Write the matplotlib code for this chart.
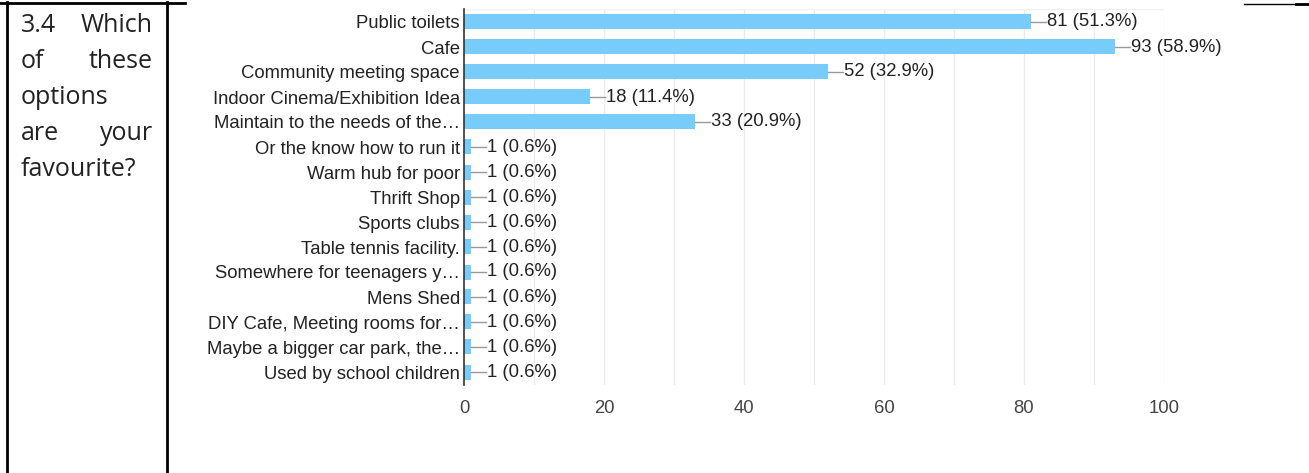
import matplotlib.pyplot as plt
from matplotlib.lines import Line2D

# Data
categories = ["Public toilets", "Cafe", "Community meeting space",
              "Indoor Cinema/Exhibition Idea", "Maintain to the needs of the\u2026",
              "Or the know how to run it", "Warm hub for poor", "Thrift Shop",
              "Sports clubs", "Table tennis facility.", "Somewhere for teenagers y\u2026",
              "Mens Shed", "DIY Cafe, Meeting rooms for\u2026",
              "Maybe a bigger car park, the\u2026", "Used by school children"]
counts = [81, 93, 52, 18, 33, 1, 1, 1, 1, 1, 1, 1, 1, 1, 1]
percents = [51.3, 58.9, 32.9, 11.4, 20.9, 0.6, 0.6, 0.6, 0.6, 0.6, 0.6, 0.6, 0.6, 0.6, 0.6]
xticks = [0, 20, 40, 60, 80, 100]

W, H = 1309, 473
fig = plt.figure(figsize=(W / 100, H / 100), dpi=100)
plt.rcParams['font.family'] = ['Liberation Sans', 'DejaVu Sans']

text_col = '#222222'
bar_col = '#77CCFA'
fs = 13.3

# Chart area
ax = fig.add_axes([464 / W, 1 - 384.5 / H, 700 / W, 375 / H])
y = list(range(len(categories)))
ax.barh(y, counts, height=0.6, color=bar_col, zorder=3)
ax.set_xlim(0, 100)
ax.set_ylim(len(categories) - 0.5, -0.5)

for x in range(10, 101, 10):
    ax.axvline(x, color='#ebebeb', lw=1, zorder=1)
ax.axhline(-0.5, color='#f0f0f0', lw=1, zorder=1)

ax.set_yticks(y)
ax.set_yticklabels(categories, fontsize=fs, color=text_col)
ax.set_xticks(xticks)
ax.set_xticklabels([str(t) for t in xticks], fontsize=fs, color='#444444')
ax.tick_params(axis='both', length=0)
ax.tick_params(axis='y', pad=3)
ax.tick_params(axis='x', pad=11)
for side in ['top', 'right', 'bottom']:
    ax.spines[side].set_visible(False)
ax.spines['left'].set_color('#333333')
ax.spines['left'].set_linewidth(1.2)
ax.spines['left'].set_zorder(4)

# Value labels with leader lines
px = 100 / 700  # data units per pixel
for yi, c, p in zip(y, counts, percents):
    ax.plot([c, c + 15 * px], [yi, yi], color='#999999', lw=1, zorder=3)
    ax.text(c + 16 * px, yi, f"{c} ({p}%)", va='center', ha='left',
            fontsize=fs, color=text_col, zorder=4)

# Table cell borders
def hline(x0, x1, yy, lw=2):
    fig.add_artist(Line2D([x0 / W, x1 / W], [1 - yy / H, 1 - yy / H], color='black', lw=lw))

def vline(xx, y0, y1, lw=2):
    fig.add_artist(Line2D([xx / W, xx / W], [1 - y0 / H, 1 - y1 / H], color='black', lw=lw))

hline(0, 185, 3)
hline(1244, 1309, 4, lw=1)
hline(1296, 1309, 4, lw=2)
vline(7, 2, 473)
vline(167, 2, 473)

# Question text in the left cell (justified lines)
qfont = dict(fontsize=18, color='#222222', family=['Open Sans', 'DejaVu Sans'], va='center')
lines = [("3.4", "Which"), ("of", "these"), ("options", None), ("are", "your"), ("favourite?", None)]
for i, (left, right) in enumerate(lines):
    yy = 1 - (25 + i * 36) / H
    fig.text(21 / W, yy, left, ha='left', **qfont)
    if right:
        fig.text(153 / W, yy, right, ha='right', **qfont)

fig.savefig('out.png', dpi=100)
